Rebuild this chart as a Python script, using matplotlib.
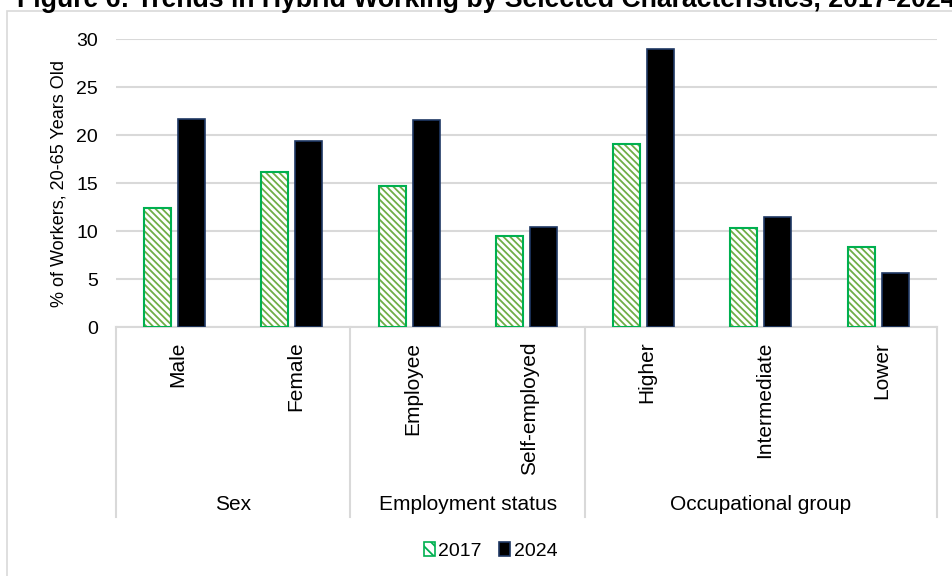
import numpy as np
import matplotlib.pyplot as plt
from matplotlib.patches import Patch, Rectangle

plt.rcParams['font.family'] = ['Liberation Sans', 'DejaVu Sans']
plt.rcParams['hatch.linewidth'] = 1.3

categories = ["Male", "Female", "Employee", "Self-employed", "Higher", "Intermediate", "Lower"]
groups = ["Sex", "Employment status", "Occupational group"]
group_sizes = [2, 2, 3]
vals_2017 = [12.4, 16.2, 14.7, 9.5, 19.1, 10.3, 8.4]
vals_2024 = [21.7, 19.4, 21.6, 10.4, 29.0, 11.5, 5.7]
yticks = [0, 5, 10, 15, 20, 25, 30]

green_edge = "#00B050"
green_stripe = "#70AD47"
navy = "#1F3864"
grid_col = "#D9D9D9"
stripes = "\\" * 5

fig = plt.figure(figsize=(9.53, 5.76), dpi=100)
ax = fig.add_axes([0.1217, 0.4318, 0.983 - 0.1217, 0.5])

x = np.arange(len(categories))
w = 0.23
off = 0.145

# 2017: hatched fill with a separate outline so stripe and border colours differ
ax.bar(x - off, vals_2017, w, color="white", edgecolor=green_stripe,
       hatch=stripes, linewidth=0, zorder=3)
ax.bar(x - off, vals_2017, w, fill=False, edgecolor=green_edge, linewidth=1.5, zorder=4)
ax.bar(x + off, vals_2024, w, color="black", edgecolor=navy, linewidth=1.2, zorder=3)

ax.set_xlim(-0.5, len(categories) - 0.5)
ax.set_ylim(0, 30)
ax.set_yticks(yticks)
ax.yaxis.grid(True, color=grid_col, linewidth=1.5)
ax.set_axisbelow(True)
ax.tick_params(axis='y', length=0, pad=13, labelsize=14)
ax.set_xticks([])
for s in ['top', 'right', 'left']:
    ax.spines[s].set_visible(False)
ax.spines['bottom'].set_color(grid_col)
ax.spines['bottom'].set_linewidth(1.5)
ax.set_ylabel("% of Workers, 20-65 Years Old", fontsize=13, labelpad=6)

# two-level category axis below the plot
trans = ax.get_xaxis_transform()
for i, c in enumerate(categories):
    ax.text(i + 0.03, -0.05, c, rotation=90, ha='center', va='top', fontsize=15,
            transform=trans)
edges = np.concatenate([[0], np.cumsum(group_sizes)]) - 0.5
for e in edges:
    ax.plot([e, e], [0, -0.66], color=grid_col, linewidth=1.5, transform=trans,
            clip_on=False)
for g, a, b in zip(groups, edges[:-1], edges[1:]):
    ax.text((a + b) / 2, -0.617, g, ha='center', va='center', fontsize=15,
            transform=trans)

# outer chart frame
fig.patches.append(Rectangle((0.007, -0.05), 1.1, 1 - 0.019 + 0.05, fill=False,
                             edgecolor=grid_col, linewidth=1.2,
                             transform=fig.transFigure, figure=fig))

fig.text(0.018, 1 - 7 / 576, "Figure 6: Trends in Hybrid Working by Selected Characteristics, 2017-2024",
         fontsize=19.2, fontweight='bold', ha='left', va='baseline')

handles = [Patch(facecolor="white", edgecolor=green_edge, hatch="\\\\\\", linewidth=1.2, label="2017"),
           Patch(facecolor="black", edgecolor=navy, linewidth=1.2, label="2024")]
fig.legend(handles=handles, loc='center', bbox_to_anchor=(0.515, 1 - 551 / 576), ncol=2,
           frameon=False, fontsize=14, handlelength=0.55, handleheight=0.7,
           handletextpad=0.2, columnspacing=0.9)

fig.savefig("out.png", dpi=100)
